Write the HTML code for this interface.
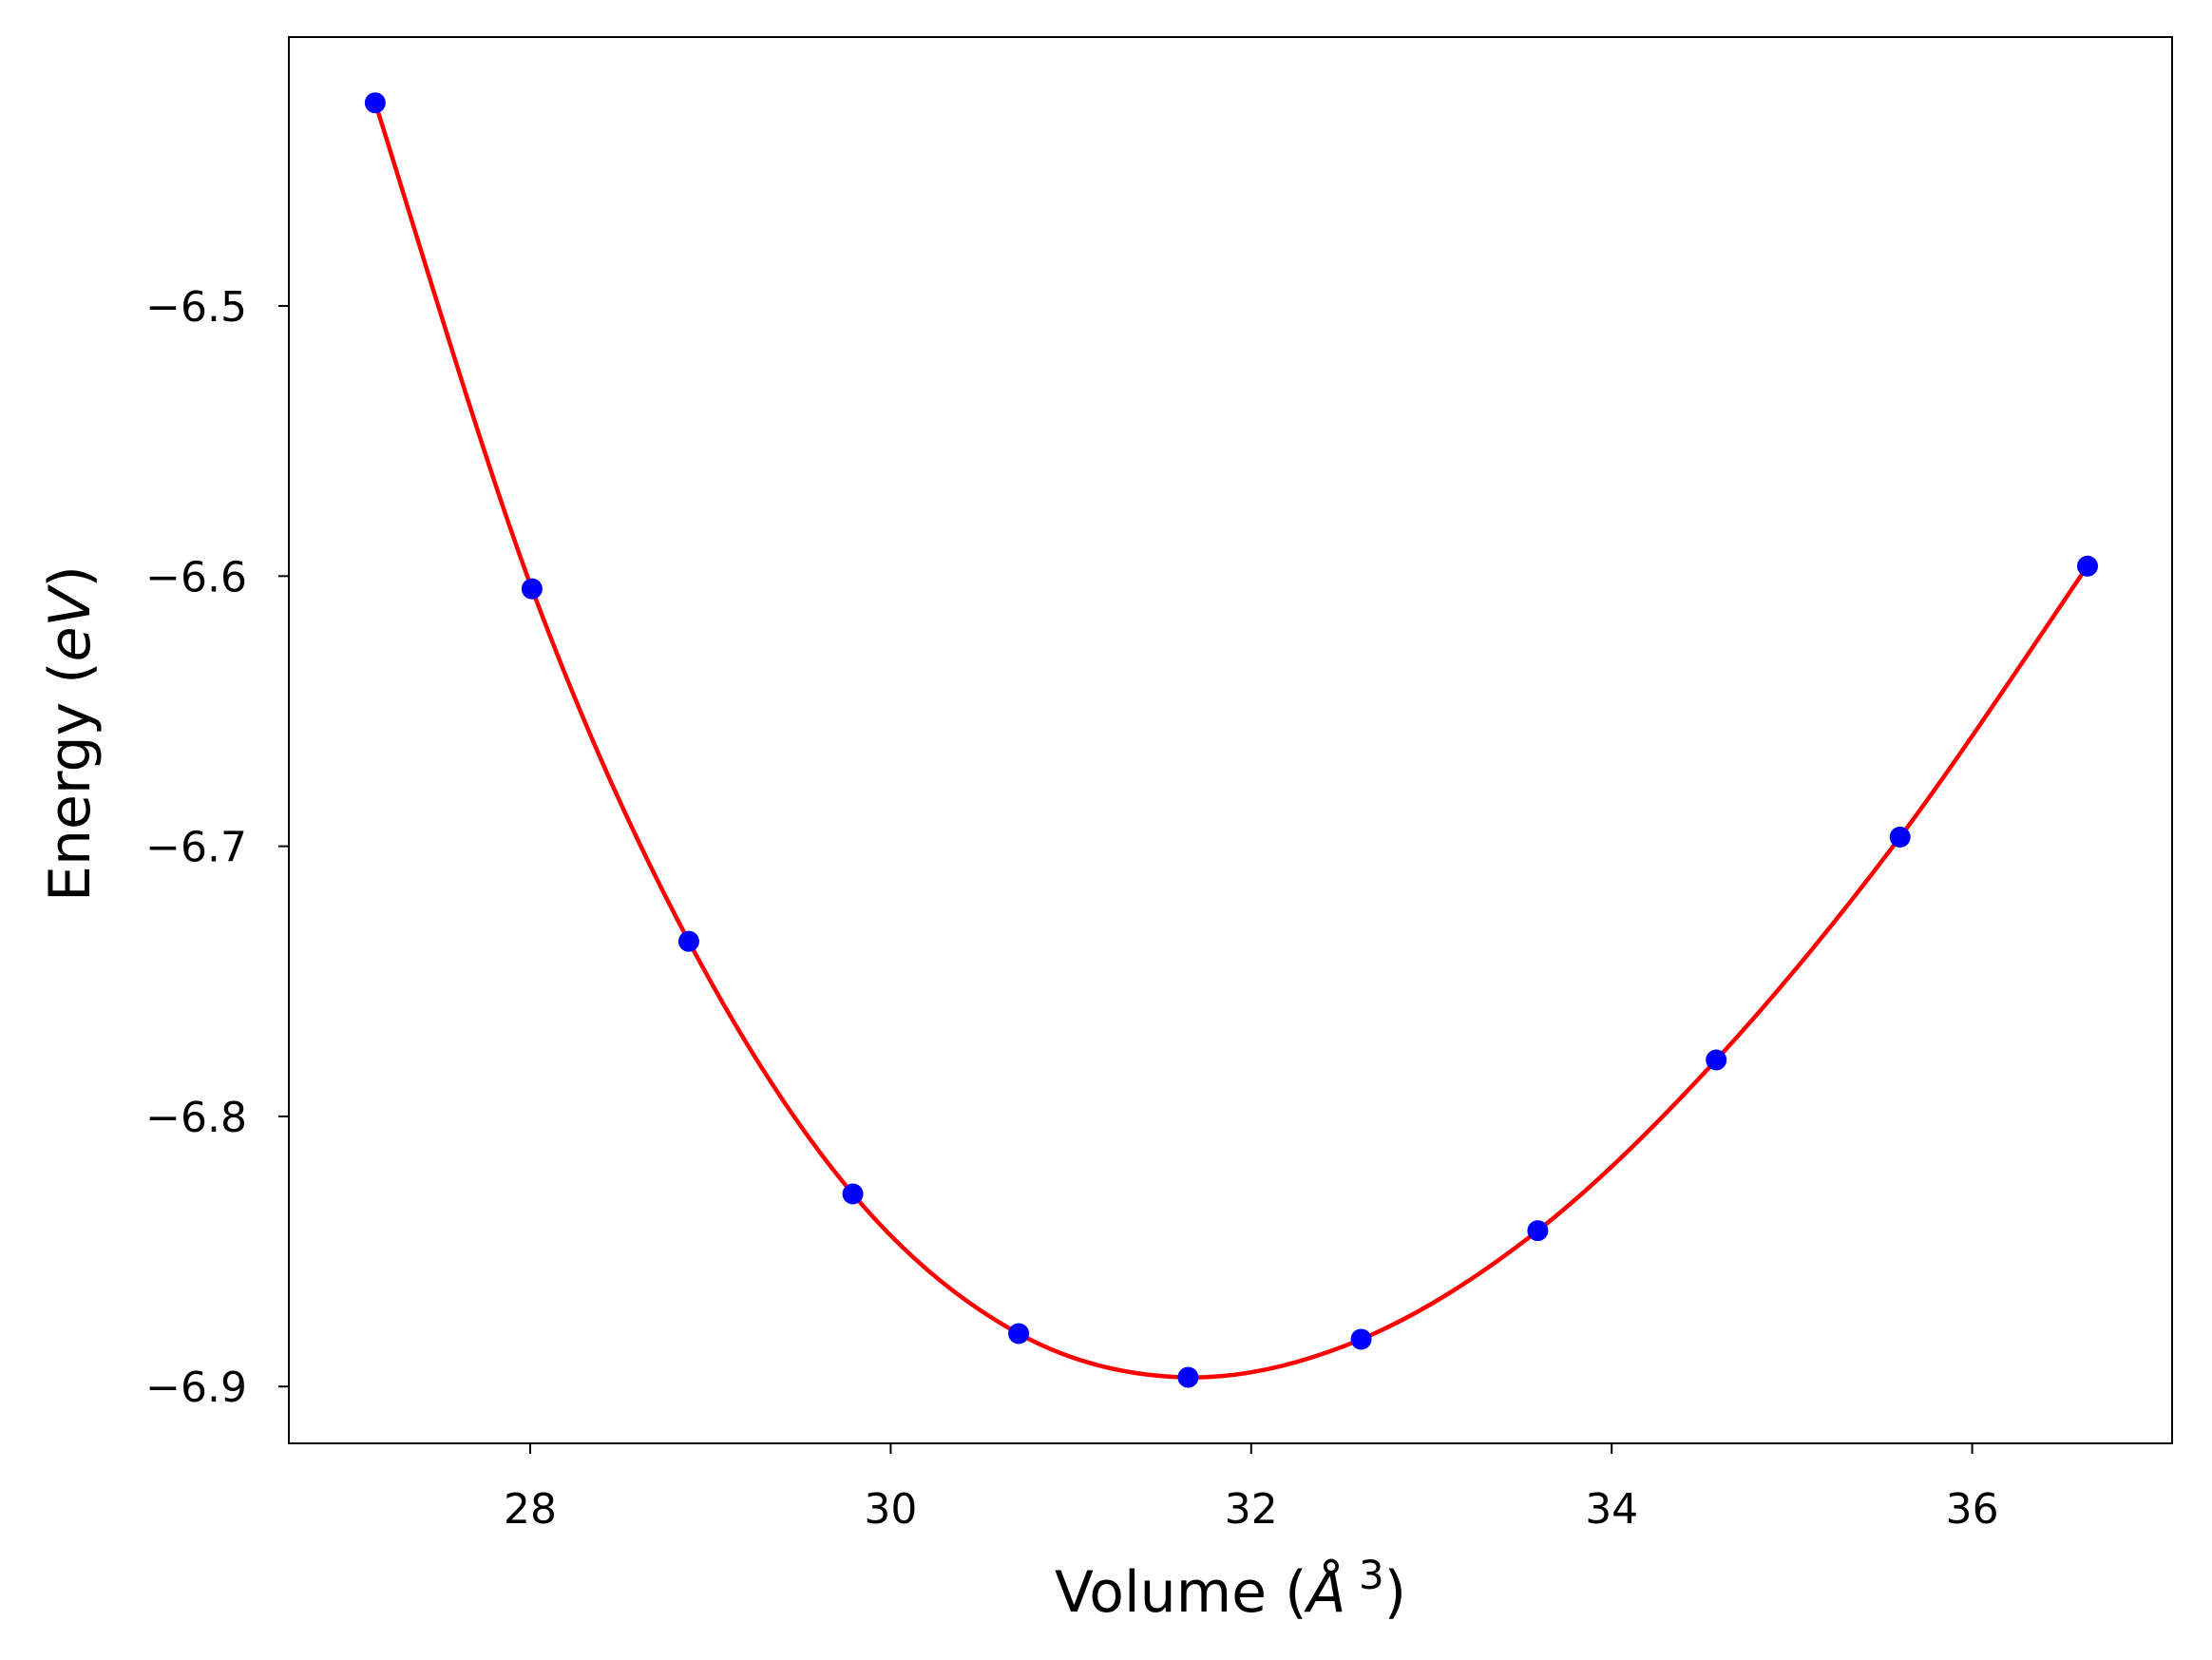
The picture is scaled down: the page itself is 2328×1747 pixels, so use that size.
<!DOCTYPE html>
<html><head><meta charset="utf-8"><style>
html,body{margin:0;padding:0;background:#fff;}
svg{display:block;font-family:"DejaVu Sans","Liberation Sans",sans-serif;}
</style></head><body>
<svg id="chart" width="2328" height="1747" viewBox="0 0 2328 1747" xmlns="http://www.w3.org/2000/svg">
<rect width="2328" height="1747" fill="#fff"/>
<g id="marks"></g>
<g id="axes"></g>
<text x="1295" y="1696" font-size="60" text-anchor="middle">Volume (<tspan font-style="italic">Å</tspan><tspan font-size="42" dy="-24"> 3</tspan><tspan dy="24">)</tspan></text>
<text transform="translate(94,772) rotate(-90)" font-size="60" text-anchor="middle">Energy (<tspan font-style="italic">eV</tspan>)</text>
</svg>
<script>
const volumes=[27.14,28.01,28.88,29.79,30.71,31.65,32.61,33.59,34.58,35.60,36.64];
const energies=[-6.4248,-6.6047,-6.7352,-6.8287,-6.8804,-6.8966,-6.8825,-6.8423,-6.7791,-6.6966,-6.5963];
const xTicks=[28,30,32,34,36];
const yTicks=[-6.5,-6.6,-6.7,-6.8,-6.9];
const L=304,R=2286,T=39,B=1519;
const sx=v=>558+(v-28)*189.7;
const sy=e=>322+(-6.5-e)*2843;
const NS="http://www.w3.org/2000/svg";
const marks=document.getElementById('marks'),axes=document.getElementById('axes');
function mk(tag,attrs,parent){const el=document.createElementNS(NS,tag);for(const k in attrs)el.setAttribute(k,attrs[k]);parent.appendChild(el);return el;}
const P=volumes.map((v,i)=>[sx(v),sy(energies[i])]);
let d=`M${P[0][0]},${P[0][1]}`;
for(let i=0;i<P.length-1;i++){
 const p0=P[Math.max(i-1,0)],p1=P[i],p2=P[i+1],p3=P[Math.min(i+2,P.length-1)];
 const c1=[p1[0]+(p2[0]-p0[0])/6,p1[1]+(p2[1]-p0[1])/6];
 const c2=[p2[0]-(p3[0]-p1[0])/6,p2[1]-(p3[1]-p1[1])/6];
 d+=` C${c1[0]},${c1[1]} ${c2[0]},${c2[1]} ${p2[0]},${p2[1]}`;
}
const curve=mk('path',{d:d,fill:'none',stroke:'#ff0000','stroke-width':4.5},marks);


P.forEach(p=>{
 const c=mk('circle',{cx:p[0],cy:p[1],r:11,fill:'#0000ff'},marks);
 
 
});
const frame=mk('rect',{x:L,y:T,width:R-L,height:B-T,fill:'none',stroke:'#000','stroke-width':2},axes);


xTicks.forEach(t=>{
 const x=sx(t);
 const tk=mk('line',{x1:x,x2:x,y1:B,y2:B+11,stroke:'#000','stroke-width':2},axes);
 
 
 const lb=mk('text',{x:x,y:B+84,'font-size':44,'text-anchor':'middle'},axes);
 lb.textContent=String(t);
 
 
});
yTicks.forEach(t=>{
 const y=sy(t);
 const tk=mk('line',{x1:L-11,x2:L,y1:y,y2:y,stroke:'#000','stroke-width':2},axes);
 
 
 const lb=mk('text',{x:L-44,y:y+16,'font-size':44,'text-anchor':'end'},axes);
 lb.textContent='\u2212'+Math.abs(t).toFixed(1);
 
 
});
</script>
</body></html>
